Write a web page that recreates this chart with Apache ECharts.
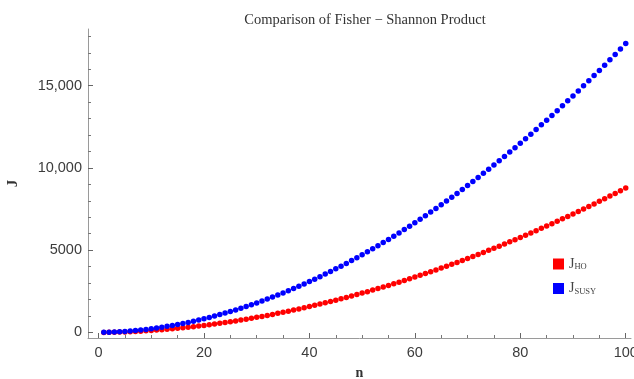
<!DOCTYPE html>
<html>
<head>
<meta charset="utf-8">
<script src="https://cdn.jsdelivr.net/npm/echarts@6/dist/echarts.min.js"></script>
<style>
  html, body { margin: 0; padding: 0; background: #fff; }
  #chart { width: 634px; height: 379px; }
</style>
</head>
<body>
<div id="chart"></div>
<script>
// n = 1..100
const nValues = [
  1, 2, 3, 4, 5, 6, 7, 8, 9, 10, 11, 12, 13, 14, 15, 16, 17, 18, 19, 20,
  21, 22, 23, 24, 25, 26, 27, 28, 29, 30, 31, 32, 33, 34, 35, 36, 37, 38, 39, 40,
  41, 42, 43, 44, 45, 46, 47, 48, 49, 50, 51, 52, 53, 54, 55, 56, 57, 58, 59, 60,
  61, 62, 63, 64, 65, 66, 67, 68, 69, 70, 71, 72, 73, 74, 75, 76, 77, 78, 79, 80,
  81, 82, 83, 84, 85, 86, 87, 88, 89, 90, 91, 92, 93, 94, 95, 96, 97, 98, 99, 100
]

// J_HO (red)
const jHO = [
  2, 6, 12, 21, 32, 45, 60, 77, 95, 116, 139, 164, 190, 219, 249, 281, 315, 351, 388, 427,
  469, 511, 556, 602, 650, 700, 751, 804, 859, 915, 974, 1033, 1095, 1158, 1223, 1289, 1357, 1427, 1498, 1571,
  1646, 1722, 1800, 1879, 1960, 2043, 2127, 2213, 2300, 2389, 2479, 2572, 2665, 2760, 2857, 2955, 3055, 3157, 3260, 3364,
  3470, 3578, 3687, 3798, 3910, 4024, 4139, 4256, 4374, 4494, 4615, 4738, 4863, 4989, 5116, 5245, 5375, 5507, 5640, 5775,
  5911, 6049, 6188, 6329, 6471, 6615, 6760, 6907, 7054, 7204, 7355, 7508, 7661, 7816, 7974, 8132, 8292, 8453, 8617, 8781
]

// J_SUSY (blue)
const jSUSY = [
  3, 11, 23, 39, 60, 85, 113, 146, 183, 223, 267, 315, 367, 422, 481, 544, 610, 680, 753, 830,
  911, 995, 1083, 1174, 1268, 1366, 1468, 1572, 1680, 1791, 1906, 2024, 2147, 2272, 2400, 2532, 2667, 2806, 2946, 3091,
  3239, 3390, 3545, 3704, 3865, 4030, 4196, 4368, 4542, 4718, 4899, 5084, 5269, 5460, 5654, 5852, 6050, 6254, 6457, 6668,
  6881, 7095, 7315, 7535, 7761, 7987, 8220, 8451, 8691, 8929, 9175, 9420, 9672, 9922, 10181, 10437, 10702, 10964, 11235, 11503,
  11774, 12056, 12334, 12620, 12904, 13190, 13486, 13779, 14081, 14379, 14681, 14993, 15300, 15617, 15931, 16248, 16576, 16898, 17234, 17562
]

const xMajorTicks = [0, 20, 40, 60, 80, 100]
const xMinorTicks = [5, 10, 15, 25, 30, 35, 45, 50, 55, 65, 70, 75, 85, 90, 95]
const yMajorTicks = [0, 5000, 10000, 15000]
const yMinorTicks = [1000, 2000, 3000, 4000, 6000, 7000, 8000, 9000, 11000, 12000, 13000, 14000, 16000, 17000, 18000]

const axisGray = '#9a9a9a'
const labelColor = '#3c3c3c'

function fmtY (v) {
  // Mathematica style: 5000 without comma, 10,000 with
  if (Math.abs(v) >= 10000) return String(v).replace(/\B(?=(\d{3})+(?!\d))/g, ',')
  return String(v)
}

const chart = echarts.init(document.getElementById('chart'))

const xBase = { type: 'value', min: -2, max: 101, splitLine: { show: false }, gridIndex: 0 }
const yBase = { type: 'value', min: -340, max: 18450, splitLine: { show: false }, gridIndex: 0 }

const option = {
  animation: false,
  backgroundColor: '#fff',
  title: {
    text: 'Comparison of Fisher \u2212 Shannon Product',
    left: 360,
    textAlign: 'center',
    top: 8,
    textStyle: { fontFamily: 'Liberation Serif', fontWeight: 'normal', fontSize: 14.5, color: '#333' }
  },
  grid: { left: 88, right: 3, top: 29, bottom: 41, containLabel: false, outerBoundsMode: 'none' },
  legend: {
    orient: 'vertical',
    left: 548,
    top: 252,
    itemWidth: 11,
    itemHeight: 11,
    itemGap: 10,
    icon: 'rect',
    data: ['J_HO', 'J_SUSY'],
    formatter: function (name) {
      return '{j|J}{s|' + name.slice(2) + '}'
    },
    textStyle: {
      rich: {
        j: { fontFamily: 'Liberation Serif', fontSize: 14, color: '#444' },
        s: { fontFamily: 'Liberation Serif', fontSize: 8.5, color: '#444', padding: [6, 0, 0, 0] }
      }
    }
  },
  xAxis: [
    Object.assign({}, xBase, {
      position: 'bottom',
      name: 'n',
      nameLocation: 'middle',
      nameGap: 28,
      nameTextStyle: { fontFamily: 'Liberation Serif', fontWeight: 'bold', fontSize: 14, color: '#333' },
      axisLine: { show: true, onZero: false, lineStyle: { color: axisGray, width: 1 } },
      axisTick: { show: true, inside: true, length: 5, lineStyle: { color: '#666' }, customValues: xMajorTicks },
      axisLabel: { show: true, margin: 7, color: labelColor, fontFamily: 'Liberation Sans', fontSize: 14.5, customValues: xMajorTicks }
    }),
    Object.assign({}, xBase, {
      position: 'bottom',
      axisLine: { show: false, onZero: false },
      axisTick: { show: true, inside: true, length: 3, lineStyle: { color: '#777' }, customValues: xMinorTicks },
      axisLabel: { show: false }
    })
  ],
  yAxis: [
    Object.assign({}, yBase, {
      position: 'left',
      name: 'J',
      nameLocation: 'middle',
      nameRotate: 90,
      nameGap: 67,
      nameTextStyle: { fontFamily: 'Liberation Serif', fontWeight: 'bold', fontSize: 15, color: '#333' },
      axisLine: { show: true, onZero: false, lineStyle: { color: axisGray, width: 1 } },
      axisTick: { show: true, inside: true, length: 5, lineStyle: { color: '#666' }, customValues: yMajorTicks },
      axisLabel: { show: true, margin: 6, color: labelColor, fontFamily: 'Liberation Sans', fontSize: 14.5, formatter: fmtY, customValues: yMajorTicks }
    }),
    Object.assign({}, yBase, {
      position: 'left',
      axisLine: { show: false, onZero: false },
      axisTick: { show: true, inside: true, length: 3, lineStyle: { color: '#777' }, customValues: yMinorTicks },
      axisLabel: { show: false }
    })
  ],
  series: [
    {
      name: 'J_HO',
      type: 'scatter',
      xAxisIndex: 0,
      yAxisIndex: 0,
      symbol: 'circle',
      symbolSize: 5.5,
      itemStyle: { color: '#ff0000', opacity: 1 },
      data: nValues.map((n, i) => [n, jHO[i]])
    },
    {
      name: 'J_SUSY',
      type: 'scatter',
      xAxisIndex: 0,
      yAxisIndex: 0,
      symbol: 'circle',
      symbolSize: 5.5,
      itemStyle: { color: '#0000ff', opacity: 1 },
      data: nValues.map((n, i) => [n, jSUSY[i]])
    }
  ]
}

chart.setOption(option)
</script>
</body>
</html>
